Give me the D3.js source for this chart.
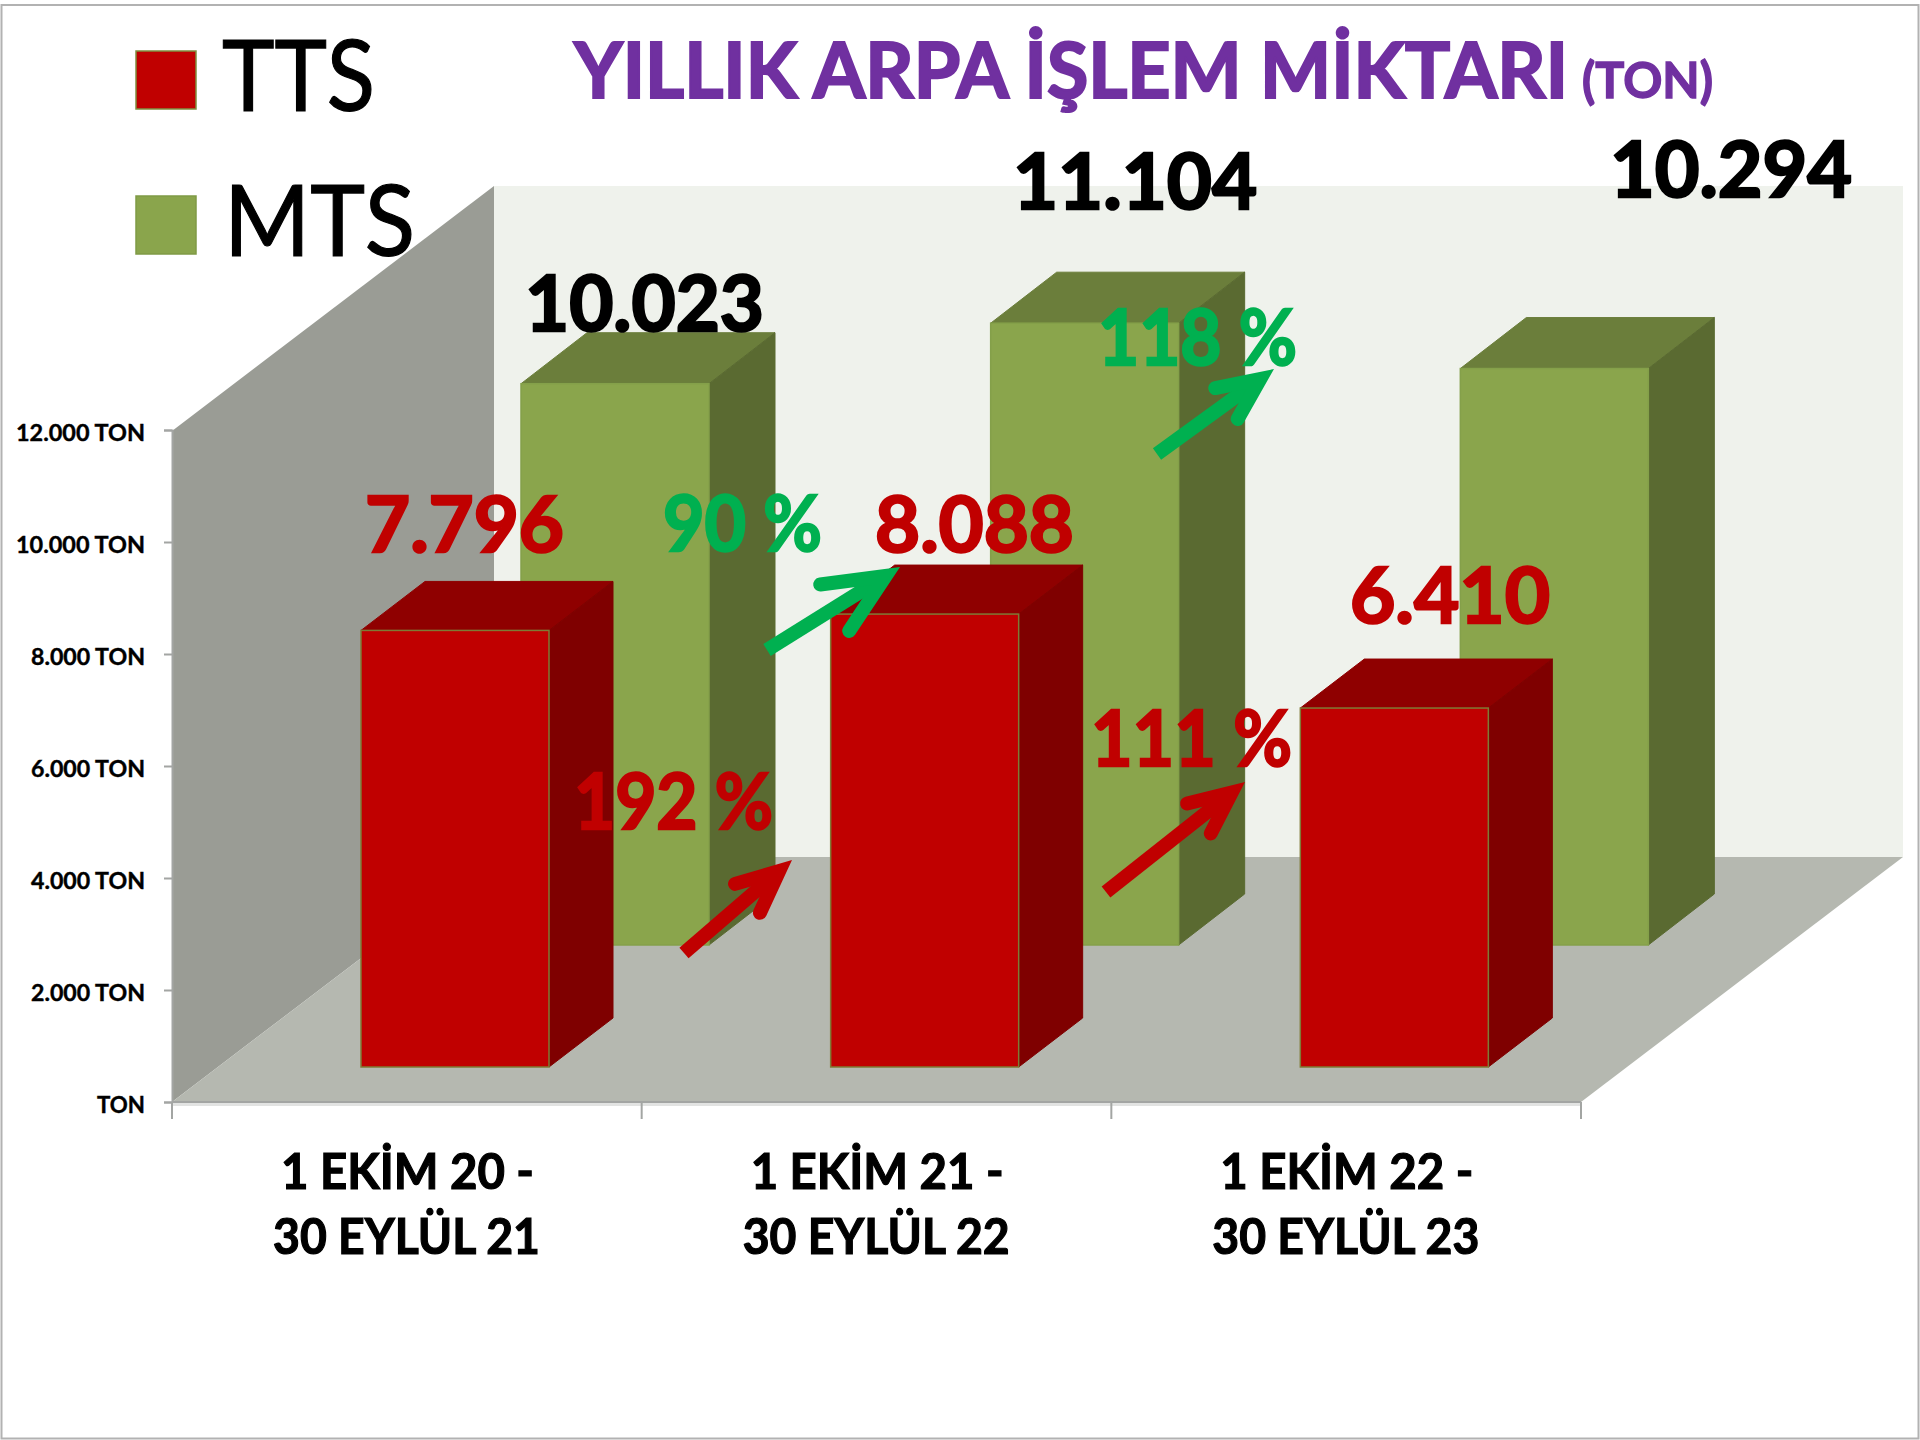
<!DOCTYPE html>
<html lang="tr">
<head>
<meta charset="utf-8">
<title>Yıllık Arpa İşlem Miktarı</title>
<script src="https://cdn.jsdelivr.net/npm/d3@7/dist/d3.min.js"></script>
<style>
html,body{margin:0;padding:0;background:#fff}
svg{display:block}
text{font-family:Lato,"Noto Sans",sans-serif}
</style>
</head>
<body>
<div id="chart"></div>
<script>
// ---- data ----
const categoryLine1 = ["1 EKİM 20 -", "1 EKİM 21 -", "1 EKİM 22 -"];
const categoryLine2 = ["30 EYLÜL 21", "30 EYLÜL 22", "30 EYLÜL 23"];
const ttsValues = [7796, 8088, 6410];
const mtsValues = [10023, 11104, 10294];
const yTicks = [0, 2000, 4000, 6000, 8000, 10000, 12000];
const ttsGrowth = ["192 %", "111 %"];
const mtsGrowth = ["90 %", "118 %"];
const seriesNames = ["TTS", "MTS"];
const titleMain = "YILLIK ARPA İŞLEM MİKTARI";
const titleUnit = "(TON)";

// ---- layout ----
const W = 1920, H = 1440;
const plot = {left: 172, right: 1581, top: 430, bottom: 1102};
const backOffset = {x: 322, y: -245};      // wall depth
const barWidth = 188;
const rows = {
  tts: {dx: 189, dy: -35, depth: {x: 64, y: -49}},
  mts: {dx: 349, dy: -157, depth: {x: 66, y: -51}}
};
const colors = {
  tts: {front: "#c00000", top: "#8f0000", side: "#7f0000", edge: "#7f7a35"},
  mts: {front: "#8aa54c", top: "#6b7e3b", side: "#5a6a31", edge: "#84a04a"},
  wallLeft: "#9a9c95", floor: "#b5b8b0", wallBack: "#eff2ec", axis: "#a3a5a3",
  title: "#7030a0", up: "#00b050", red: "#c00000"
};
const ttsLabelBox = [[365, 552, 199], [875, 552, 199], [1350, 623, 200]];
const mtsLabelBox = [[525, 331, 239], [1013, 209, 244], [1610, 197, 242]];
const ttsGrowthBox = [[574, 829, 199], [1091, 766, 201]];
const mtsGrowthBox = [[663, 551, 159], [1098, 365, 199]];
const ttsArrows = [
  {from: [684, 953], tip: [792, 860], len: 46},
  {from: [1106, 892], tip: [1245, 782], len: 46}
];
const mtsArrows = [
  {from: [767, 650], tip: [900, 567], len: 66},
  {from: [1157, 454], tip: [1274, 369], len: 46}
];

const nf = d3.formatLocale({decimal: ",", thousands: ".", grouping: [3], currency: ["", ""]}).format(",d");

const x = d3.scaleBand().domain(d3.range(categoryLine1.length)).range([plot.left, plot.right]).padding(0);
const y = d3.scaleLinear().domain([0, 12000]).range([plot.bottom, plot.top]);

const svg = d3.select("#chart").append("svg").attr("width", W).attr("height", H).attr("viewBox", [0, 0, W, H]);
svg.append("rect").attr("x", 1.5).attr("y", 5).attr("width", W - 3).attr("height", H - 6.5)
  .attr("fill", "#fff").attr("stroke", "#b2b2b2").attr("stroke-width", 2);

const pts = a => a.map(p => p.join(",")).join(" ");

// walls and floor
const bl = [plot.left, plot.bottom], tl = [plot.left, 431], br = [plot.right, plot.bottom];
const shift = p => [p[0] + backOffset.x, p[1] + backOffset.y];
svg.append("polygon").attr("points", pts([shift(tl), [plot.right + backOffset.x, shift(tl)[1]], shift(br), shift(bl)])).attr("fill", colors.wallBack);
svg.append("polygon").attr("points", pts([tl, shift(tl), shift(bl), bl])).attr("fill", colors.wallLeft);
svg.append("polygon").attr("points", pts([bl, shift(bl), shift(br), br])).attr("fill", colors.floor);

// axes
const yAxis = d3.axisLeft(y).tickValues(yTicks).tickSize(8).tickPadding(19)
  .tickFormat(d => d === 0 ? "TON" : nf(d) + " TON");
const gy = svg.append("g").attr("transform", `translate(${plot.left},0)`).call(yAxis);
gy.select(".domain").attr("stroke", colors.axis).attr("stroke-width", 2);
gy.selectAll(".tick line").attr("stroke", colors.axis).attr("stroke-width", 2);
gy.selectAll(".tick text")
  .attr("dy", null).attr("y", 10.5)
  .attr("fill", "#000").attr("font-size", 23).attr("font-weight", 700)
  .attr("font-family", "Lato")
  .attr("stroke", "#000").attr("stroke-width", 0.4)
  .attr("textLength", d => d === 0 ? 48 : (d >= 10000 ? 129 : 114))
  .attr("lengthAdjust", "spacingAndGlyphs");

const xAxis = d3.axisBottom(x).tickSize(16).tickFormat("");
const gx = svg.append("g").attr("transform", `translate(0,${plot.bottom})`);
gx.append("rect").attr("x", plot.left).attr("y", 1).attr("width", plot.right - plot.left).attr("height", 3).attr("fill", "#e2e3e2");
gx.call(xAxis);
gx.select(".domain").attr("stroke", colors.axis).attr("stroke-width", 2).attr("d", `M${plot.left},0H${plot.right}`);
gx.selectAll(".tick").remove();
gx.selectAll("line.cat").data(d3.range(categoryLine1.length + 1)).join("line")
  .attr("class", "cat")
  .attr("x1", i => plot.left + i * x.step()).attr("x2", i => plot.left + i * x.step())
  .attr("y1", 0).attr("y2", 17).attr("stroke", colors.axis).attr("stroke-width", 2);

// 3D bars
function drawBars(values, row, col) {
  const g = svg.append("g");
  const base = plot.bottom + row.dy, dp = row.depth;
  const bar = g.selectAll("g").data(values).join("g");
  const top = d => base - (y(0) - y(d));
  const X = (d, i) => x(i) + row.dx;
  bar.append("polygon").attr("fill", col.top).attr("stroke", col.top).attr("stroke-width", 1)
    .attr("points", (d, i) => pts([[X(d, i), top(d)], [X(d, i) + dp.x, top(d) + dp.y],
      [X(d, i) + barWidth + dp.x, top(d) + dp.y], [X(d, i) + barWidth, top(d)]]));
  bar.append("polygon").attr("fill", col.side).attr("stroke", col.side).attr("stroke-width", 1)
    .attr("points", (d, i) => pts([[X(d, i) + barWidth, top(d)], [X(d, i) + barWidth + dp.x, top(d) + dp.y],
      [X(d, i) + barWidth + dp.x, base + dp.y], [X(d, i) + barWidth, base]]));
  bar.append("rect").attr("fill", col.front).attr("stroke", col.edge).attr("stroke-width", 1.5)
    .attr("x", X).attr("y", top).attr("width", barWidth).attr("height", d => base - top(d));
}
drawBars(mtsValues, rows.mts, colors.mts);
drawBars(ttsValues, rows.tts, colors.tts);

// text helper: left x, baseline y, exact width; a thin outline thickens the strokes
function label(str, box, size, fill, weight, thicken) {
  svg.append("text").text(str)
    .attr("x", box[0]).attr("y", box[1]).attr("font-size", size).attr("font-weight", weight || 700).attr("fill", fill)
    .attr("stroke", fill).attr("stroke-width", thicken === undefined ? 1.6 : thicken)
    .attr("textLength", box[2]).attr("lengthAdjust", "spacingAndGlyphs");
}

mtsValues.forEach((v, i) => label(nf(v), mtsLabelBox[i], 76, "#000", 700, 2.4));
ttsValues.forEach((v, i) => label(nf(v), ttsLabelBox[i], 76, colors.red, 700, 2.4));
ttsGrowth.forEach((t, i) => label(t, ttsGrowthBox[i], 76, colors.red, 700, 2.4));
mtsGrowth.forEach((t, i) => label(t, mtsGrowthBox[i], 76, colors.up, 700, 2.4));

// arrows
function arrow(a, color) {
  const s = a.from, t = a.tip;
  const ang = Math.atan2(t[1] - s[1], t[0] - s[0]);
  const w = 14, half = 24.5 * Math.PI / 180, back = (w / 2) / Math.sin(half);
  const v = [t[0] - back * Math.cos(ang), t[1] - back * Math.sin(ang)];
  const barb = sgn => [v[0] - a.len * Math.cos(ang + sgn * half), v[1] - a.len * Math.sin(ang + sgn * half)];
  svg.append("path").attr("fill", "none").attr("stroke", color).attr("stroke-width", w)
    .attr("d", d3.line()([s, v]));
  svg.append("path").attr("fill", "none").attr("stroke", color).attr("stroke-width", w)
    .attr("stroke-linecap", "round").attr("stroke-linejoin", "miter").attr("stroke-miterlimit", 6)
    .attr("d", d3.line()([barb(1), v, barb(-1)]));
}
ttsArrows.forEach(a => arrow(a, colors.red));
mtsArrows.forEach(a => arrow(a, colors.up));

// category labels
categoryLine1.forEach((t, i) => {
  const off = i * x.step();
  label(t, [281 + off, 1189, 253], 50, "#000", 700, 1.2);
  label(categoryLine2[i], [273 + off, 1254, 267], 50, "#000", 700, 1.2);
});

// legend
const legendRows = [
  {name: seriesNames[0], col: colors.tts.front, edge: "#7f8f3f", y: 51, tx: 222, tw: 153, base: 111},
  {name: seriesNames[1], col: colors.mts.front, edge: "#7f9a45", y: 196, tx: 224, tw: 191, base: 256}
];
legendRows.forEach(r => {
  svg.append("rect").attr("x", 136).attr("y", r.y).attr("width", 60).attr("height", 58)
    .attr("fill", r.col).attr("stroke", r.edge).attr("stroke-width", 1.5);
  label(r.name, [r.tx, r.base, r.tw], 98, "#000", 400, 1.2);
});

// title
label(titleMain, [574, 98, 994], 76, colors.title, 700, 2.2);
label(titleUnit, [1582, 98, 131], 50, colors.title, 700, 1.4);
</script>
</body>
</html>
